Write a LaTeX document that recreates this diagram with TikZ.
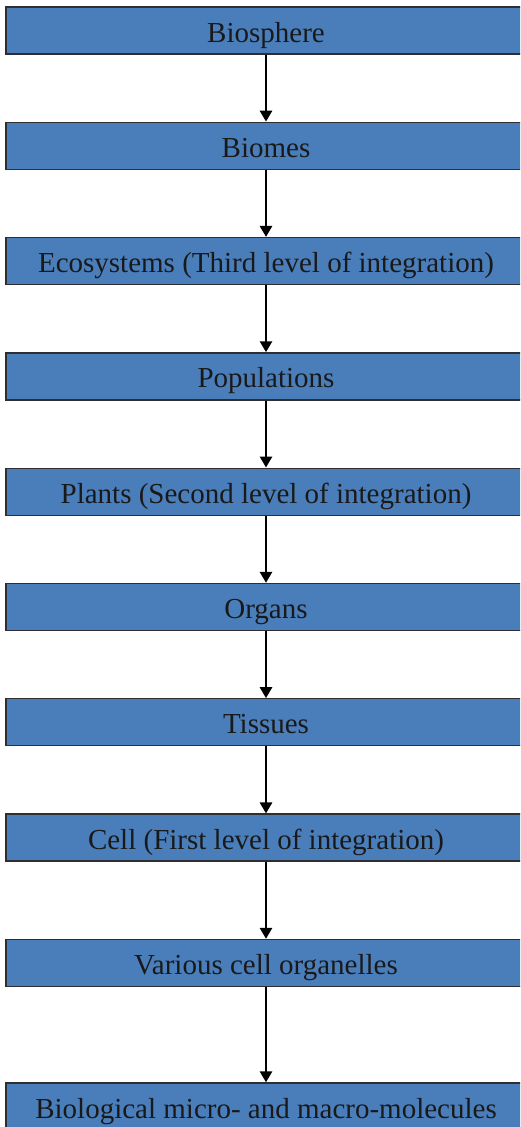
\documentclass[tikz,border=0pt]{standalone}
\usepackage{fontspec}
\setmainfont{Liberation Serif}
\usetikzlibrary{arrows.meta}
\definecolor{boxblue}{RGB}{74,126,187}
\definecolor{boxedge}{RGB}{45,45,50}
\tikzset{
  levelbox/.style={draw=boxedge, line width=1.3pt, fill=boxblue, rectangle,
    minimum width=520pt, minimum height=47pt, inner sep=0pt,
    text height=23pt, text depth=0pt, font=\fontsize{29pt}{30pt}\selectfont, text=black!90},
  flow/.style={line width=2.7pt, draw=black, -{Triangle[width=12pt,length=11pt]}}
}
\begin{document}
\begin{tikzpicture}[x=1pt,y=-1pt]
  \useasboundingbox (0,0) rectangle (520,1127);
  \begin{scope}
    \clip (0,0) rectangle (520,1127);
    \node[levelbox] (n1)  at (266,30.5)   {Biosphere};
    \node[levelbox] (n2)  at (266,145.8)  {Biomes};
    \node[levelbox] (n3)  at (266,261.1)  {Ecosystems (Third level of integration)};
    \node[levelbox] (n4)  at (266,376.4)  {Populations};
    \node[levelbox] (n5)  at (266,491.7)  {Plants (Second level of integration)};
    \node[levelbox] (n6)  at (266,607.0)  {Organs};
    \node[levelbox] (n7)  at (266,722.3)  {Tissues};
    \node[levelbox] (n8)  at (266,837.6)  {Cell (First level of integration)};
    \node[levelbox] (n9)  at (266,963.0)  {Various cell organelles};
    \node[levelbox] (n10) at (266,1106.5) {Biological micro- and macro-molecules};
  \end{scope}
  \foreach \a/\b in {n1/n2,n2/n3,n3/n4,n4/n5,n5/n6,n6/n7,n7/n8,n8/n9,n9/n10}
    \draw[flow] (\a.south) -- (\b.north);
\end{tikzpicture}
\end{document}
